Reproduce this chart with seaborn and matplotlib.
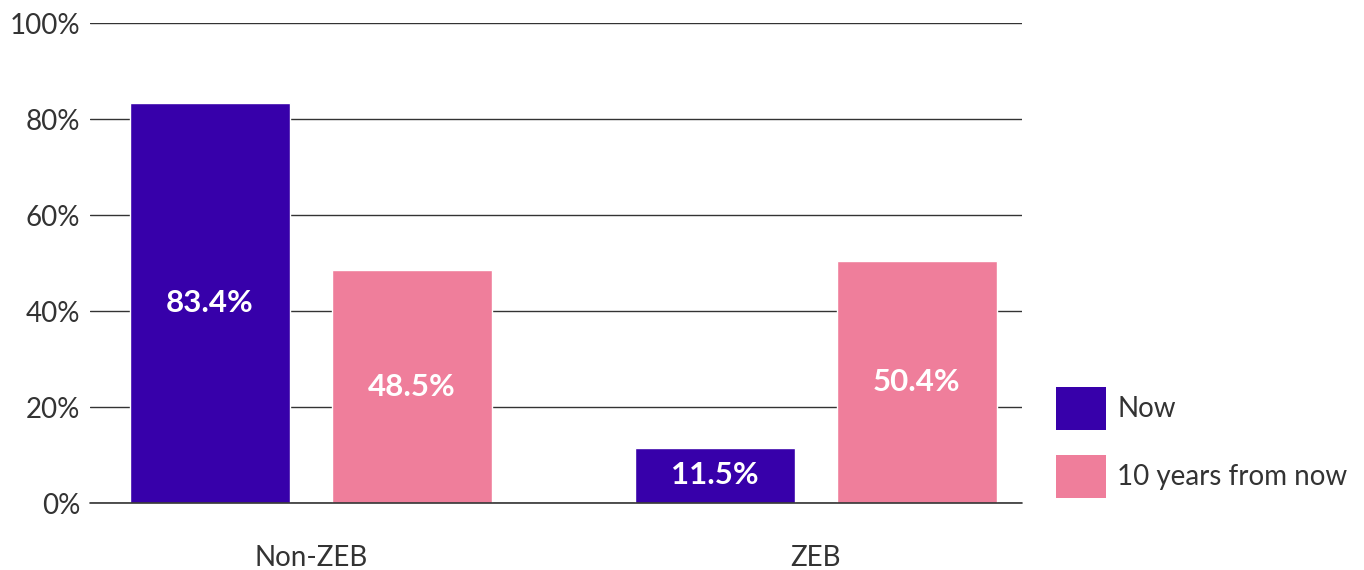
import numpy as np
import pandas as pd
import matplotlib
matplotlib.use("Agg")
import matplotlib.pyplot as plt
import seaborn as sns
from matplotlib.patches import Patch

# --- data ---
categories = ["Non-ZEB", "ZEB"]
series_names = ["Now", "10 years from now"]
now_values = [83.4, 11.5]
future_values = [48.5, 50.4]
colors = ["#3700AA", "#EF7E9B"]
y_ticks = [0, 20, 40, 60, 80, 100]

df = pd.DataFrame({
    "category": categories * 2,
    "series": [series_names[0]] * 2 + [series_names[1]] * 2,
    "value": now_values + future_values,
})

sns.set_theme(style="white")
plt.rcParams["font.family"] = ["Lato", "DejaVu Sans"]

text_color = "#333333"

fig = plt.figure(figsize=(13.64, 5.70), dpi=100)
ax = fig.add_axes([90 / 1364, 1 - 503 / 570, 932 / 1364, 480 / 570])

sns.barplot(data=df, x="category", y="value", hue="series", order=categories,
            hue_order=series_names, palette=colors, width=0.8, gap=0.21,
            saturation=1, legend=False, ax=ax)

# value labels in the middle of each bar
for container in ax.containers:
    for bar in container:
        h = bar.get_height()
        ax.text(bar.get_x() + bar.get_width() / 2, h / 2, f"{h:.1f}%",
                ha="center", va="center", color="white", fontsize=22.5,
                fontweight="bold")

ax.set_ylim(0, 100)
ax.set_xlim(-0.4376, 1.408)
ax.set_yticks(y_ticks)
ax.set_yticklabels([f"{t}%" for t in y_ticks])
ax.yaxis.grid(True, color="#333333", linewidth=1)
ax.axhline(0, color="#333333", linewidth=1.2, clip_on=False, zorder=3)
ax.set_axisbelow(True)
for s in ax.spines.values():
    s.set_visible(False)
ax.tick_params(axis="y", length=0, pad=7, labelsize=20, labelcolor=text_color)
ax.tick_params(axis="x", length=0, pad=30, labelsize=20, labelcolor=text_color)
ax.set_xlabel("")
ax.set_ylabel("")

handles = [Patch(facecolor=c, edgecolor="none") for c in colors]
fig.legend(handles, series_names, loc="upper left",
           bbox_to_anchor=(1045 / 1364, 1 - 376 / 570), frameon=False,
           fontsize=20, labelcolor=text_color, handlelength=1.8,
           handleheight=2.0, handletextpad=0.4, labelspacing=0.9,
           borderaxespad=0)

fig.savefig("out.png", dpi=100)
